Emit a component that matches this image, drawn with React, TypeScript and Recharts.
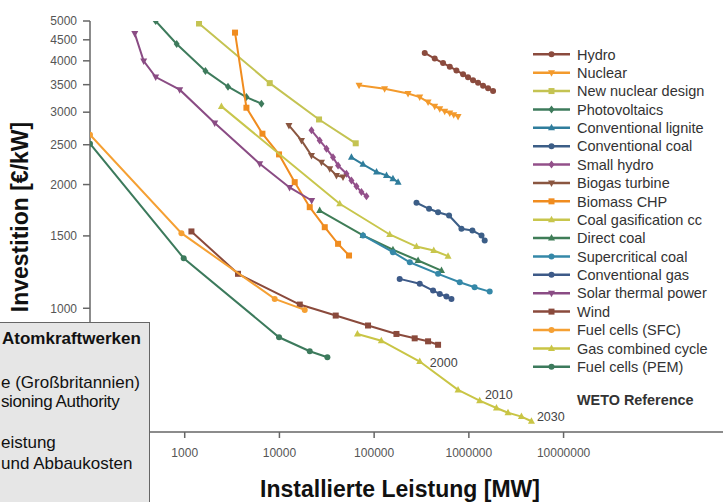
import { ReferenceDot, Scatter, ScatterChart, XAxis, YAxis } from "recharts";

type Pt = [number, number];

// installed capacity [MW], investment [€/kW]
const hydro: Pt[] = [[342000, 4180], [436000, 4050], [534000, 3950], [629000, 3870], [739000, 3790], [869000, 3710], [980000, 3650], [1107000, 3590], [1250000, 3540], [1413000, 3480], [1596000, 3430], [1802000, 3380]];
const nuclear: Pt[] = [[69300, 3490], [129000, 3420], [228000, 3330], [303000, 3265], [371000, 3175], [436000, 3100], [493000, 3060], [556000, 3015], [629000, 2985], [692000, 2958], [769000, 2930]];
const newNuclear: Pt[] = [[1416, 4930], [7900, 3530], [26200, 2880], [63900, 2520]];
const photovoltaics: Pt[] = [[494, 5000], [823, 4395], [1654, 3780], [2866, 3460], [4482, 3265], [6456, 3146]];
const lignite: Pt[] = [[57600, 2330], [76300, 2240], [106000, 2145], [135000, 2105], [158000, 2066], [179000, 2027]];
const convCoal: Pt[] = [[280000, 1806], [380000, 1746], [473000, 1713], [618000, 1682], [835000, 1561], [1090000, 1546], [1360000, 1504], [1470000, 1462]];
const smallHydro: Pt[] = [[21800, 2710], [26600, 2560], [31400, 2445], [36800, 2330], [41600, 2225], [51000, 2125], [57600, 2045], [65000, 1980], [73400, 1917], [82900, 1874]];
const biogas: Pt[] = [[12600, 2786], [17100, 2561], [21800, 2354], [27800, 2267], [34000, 2185], [40000, 2105], [46900, 2085]];
const biomass: Pt[] = [[3398, 4685], [4482, 3076], [6614, 2659], [9904, 2368], [14500, 2027], [20900, 1762], [30100, 1575], [41600, 1435], [54300, 1344]];
const coalGasification: Pt[] = [[2441, 3099], [43300, 1796], [146000, 1512], [280000, 1413], [426000, 1382], [603000, 1339]];
const directCoal: Pt[] = [[26600, 1729], [76300, 1504], [158000, 1388], [291000, 1307], [514000, 1235]];
const supercritical: Pt[] = [[76300, 1504], [158000, 1369], [238000, 1294], [473000, 1213], [801000, 1157], [1150000, 1125], [1660000, 1098]];
const convGas: Pt[] = [[186000, 1179], [303000, 1147], [419000, 1104], [493000, 1084], [580000, 1068], [655000, 1054]];
const solarThermal: Pt[] = [[297, 4660], [369, 3995], [494, 3653], [885, 3403], [2074, 2822], [6194, 2247], [12800, 1968], [21900, 1829]];
const wind: Pt[] = [[1177, 1538], [3654, 1213], [16400, 1021], [39300, 960], [86200, 908], [172000, 866], [268000, 845], [371000, 831], [473000, 815]];
const fuelCellsSfc: Pt[] = [[100, 2644], [923, 1523], [8918, 1054], [18500, 991]];
const gasCombined: Pt[] = [[66600, 866], [119000, 834], [303000, 742], [769000, 633], [1300000, 596], [1956000, 572], [2590000, 557], [3590000, 545], [4580000, 531]];
const fuelCellsPem: Pt[] = [[100, 2514], [976, 1324], [9904, 850], [20900, 786], [32100, 760]];

const xTicks = [1000, 10000, 100000, 1000000, 10000000];
const yTicks = [1000, 1500, 2000, 2500, 3000, 3500, 4000, 4500, 5000];

const yearLabels = [
  { text: "2000", x: 543000, y: 738 },
  { text: "2010", x: 2070000, y: 618 },
  { text: "2030", x: 7330000, y: 546 },
];

const noteLines = [
  { text: "Atomkraftwerken", bold: true, top: 330, left: 1, spacing: 0 },
  { text: "e (Großbritannien)", top: 374, left: 0, spacing: 0 },
  { text: "sioning Authority", top: 393.5, left: 0, spacing: -0.38 },
  { text: "eistung", top: 434.5, left: 0, spacing: 0 },
  { text: "und Abbaukosten", top: 455, left: 0, spacing: 0 },
];

const series = [
  { name: "Hydro", data: hydro, color: "#8b4b3e", marker: "circle" },
  { name: "Nuclear", data: nuclear, color: "#f39a2c", marker: "down" },
  { name: "New nuclear design", data: newNuclear, color: "#c4c352", marker: "square" },
  { name: "Photovoltaics", data: photovoltaics, color: "#3e7b5c", marker: "diamond" },
  { name: "Conventional lignite", data: lignite, color: "#2f7d9c", marker: "triangle" },
  { name: "Conventional coal", data: convCoal, color: "#3c5e87", marker: "circle" },
  { name: "Small hydro", data: smallHydro, color: "#93508a", marker: "diamond" },
  { name: "Biogas turbine", data: biogas, color: "#8a5640", marker: "down" },
  { name: "Biomass CHP", data: biomass, color: "#f08c1f", marker: "square" },
  { name: "Coal gasification cc", data: coalGasification, color: "#c8c64c", marker: "triangle" },
  { name: "Direct coal", data: directCoal, color: "#3f7d57", marker: "triangle" },
  { name: "Supercritical coal", data: supercritical, color: "#3588a8", marker: "circle" },
  { name: "Conventional gas", data: convGas, color: "#3d5a88", marker: "circle" },
  { name: "Solar thermal power", data: solarThermal, color: "#8a4c84", marker: "down" },
  { name: "Wind", data: wind, color: "#8a4a3c", marker: "square" },
  { name: "Fuel cells (SFC)", data: fuelCellsSfc, color: "#f5a033", marker: "circle" },
  { name: "Gas combined cycle", data: gasCombined, color: "#c9c545", marker: "triangle" },
  { name: "Fuel cells (PEM)", data: fuelCellsPem, color: "#3c7a5c", marker: "circle" },
];

const FONT = "'Liberation Sans', Arial, sans-serif";

function Marker({ cx, cy, kind, color }: { cx?: number; cy?: number; kind: string; color: string }) {
  if (cx == null || cy == null) return null;
  const s = 3;
  if (kind === "square") return <rect x={cx - s} y={cy - s} width={2 * s} height={2 * s} fill={color} />;
  if (kind === "triangle")
    return <polygon points={`${cx},${cy - s - 1} ${cx + s + 0.5},${cy + s - 0.5} ${cx - s - 0.5},${cy + s - 0.5}`} fill={color} />;
  if (kind === "down")
    return <polygon points={`${cx},${cy + s + 1} ${cx + s + 0.5},${cy - s + 0.5} ${cx - s - 0.5},${cy - s + 0.5}`} fill={color} />;
  if (kind === "diamond")
    return <polygon points={`${cx},${cy - s - 1} ${cx + s},${cy} ${cx},${cy + s + 1} ${cx - s},${cy}`} fill={color} />;
  return <circle cx={cx} cy={cy} r={s} fill={color} />;
}

export default function App() {
  return (
    <div
      style={{
        position: "fixed",
        left: 0,
        top: 0,
        width: 723,
        height: 502,
        overflow: "hidden",
        background: "#fff",
        fontFamily: FONT,
      }}
    >
      <ScatterChart width={763} height={502} margin={{ top: 21, right: 10, bottom: 0, left: 0 }}>
        <XAxis
          type="number"
          dataKey="x"
          scale="log"
          domain={[100, 1e9]}
          ticks={xTicks}
          interval={0}
          allowDataOverflow
          height={70}
          tickSize={6}
          tickMargin={10}
          tick={{ fill: "#555", fontSize: 12, fontFamily: FONT }}
          tickFormatter={(v: number) => String(v)}
          axisLine={{ stroke: "#666", strokeWidth: 1.5 }}
          tickLine={{ stroke: "#666", strokeWidth: 1.5 }}
        />
        <YAxis
          type="number"
          dataKey="y"
          scale="log"
          domain={[500, 5000]}
          ticks={yTicks}
          interval={0}
          allowDataOverflow
          width={90}
          tickSize={7}
          tickMargin={6}
          tick={{ fill: "#555", fontSize: 12, fontFamily: FONT }}
          tickFormatter={(v: number) => String(v)}
          axisLine={{ stroke: "#666", strokeWidth: 1.5 }}
          tickLine={{ stroke: "#666", strokeWidth: 1.5 }}
        />
        {series.map((s) => (
          <Scatter
            key={s.name}
            name={s.name}
            data={s.data.map(([x, y]) => ({ x, y }))}
            fill={s.color}
            line={{ stroke: s.color, strokeWidth: 2 }}
            lineType="joint"
            shape={(p: any) => <Marker cx={p.cx} cy={p.cy} kind={s.marker} color={s.color} />}
            isAnimationActive={false}
          />
        ))}
        {yearLabels.map((l) => (
          <ReferenceDot
            key={l.text}
            x={l.x}
            y={l.y}
            r={0}
            fill="none"
            stroke="none"
            label={{ value: l.text, position: "center", fill: "#444", fontSize: 12.5, fontFamily: FONT }}
          />
        ))}
      </ScatterChart>

      {/* legend */}
      <svg style={{ position: "absolute", left: 0, top: 0 }} width={723} height={502} pointerEvents="none">
        {series.map((s, i) => {
          const cy = 54.3 + i * 18.38;
          return (
            <g key={s.name}>
              <line x1={533} x2={570} y1={cy} y2={cy} stroke={s.color} strokeWidth={2.5} />
              <Marker cx={551.5} cy={cy} kind={s.marker} color={s.color} />
              <text x={577} y={cy + 5.2} fontSize={14.5} fill="#333" fontFamily={FONT}>
                {s.name}
              </text>
            </g>
          );
        })}
        <text x={577} y={405} fontSize={14.4} fontWeight="bold" fill="#333" fontFamily={FONT}>
          WETO Reference
        </text>
      </svg>

      {/* axis titles */}
      <div
        style={{
          position: "absolute",
          left: 20,
          top: 217,
          transform: "translate(-50%, -50%) rotate(-90deg)",
          whiteSpace: "nowrap",
          fontSize: 23,
          fontWeight: "bold",
          color: "#111",
        }}
      >
        Investition [€/kW]
      </div>
      <div
        style={{
          position: "absolute",
          left: 400,
          top: 489,
          transform: "translate(-50%, -50%)",
          whiteSpace: "nowrap",
          fontSize: 23,
          fontWeight: "bold",
          color: "#111",
        }}
      >
        Installierte Leistung [MW]
      </div>

      {/* note box, cut off at the page edge */}
      <div
        style={{
          position: "absolute",
          left: -2,
          top: 322,
          width: 150,
          height: 200,
          background: "#e6e6e6",
          border: "1.5px solid #666",
          overflow: "hidden",
        }}
      >
        {noteLines.map((l) => (
          <div
            key={l.text}
            style={{
              position: "absolute",
              left: l.left + 2,
              top: l.top - 323.5,
              fontSize: 17,
              lineHeight: 1,
              letterSpacing: l.spacing,
              whiteSpace: "nowrap",
              fontWeight: l.bold ? "bold" : "normal",
              color: "#111",
            }}
          >
            {l.text}
          </div>
        ))}
      </div>
    </div>
  );
}
